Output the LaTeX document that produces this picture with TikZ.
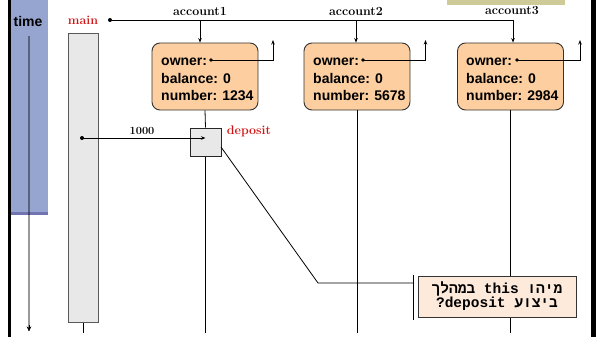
\documentclass[tikz,border=0pt]{standalone}
\usepackage{fontspec}
\usetikzlibrary{arrows.meta}
\TeXXeTstate=1

\newfontfamily\boxsans{Liberation Sans}
\newfontfamily\notemono[Script=Hebrew]{Liberation Mono}

\definecolor{panelblue}{RGB}{150,164,208}
\definecolor{paneledge}{RGB}{112,116,176}
\definecolor{objfill}{RGB}{252,206,160}
\definecolor{notefill}{RGB}{253,234,218}
\definecolor{actfill}{RGB}{232,232,232}
\definecolor{tagolive}{RGB}{207,203,153}
\definecolor{callred}{RGB}{210,20,20}

\tikzset{
  objbox/.style={draw=black!80, fill=objfill, rounded corners=8pt, line width=0.9pt,
    minimum width=106pt, minimum height=67pt, inner sep=0pt},
  objtext/.style={font=\boxsans\bfseries\fontsize{14}{16}\selectfont, inner sep=0pt, anchor=base west},
  acclabel/.style={font=\bfseries\fontsize{12.4}{14}\selectfont, inner sep=0pt},
  redlabel/.style={font=\bfseries\fontsize{12.4}{14}\selectfont, text=callred, inner sep=0pt},
  actbox/.style={draw=black!65, fill=actfill, line width=1pt, inner sep=0pt},
  notebox/.style={draw=black!80, fill=notefill, line width=0.8pt, inner sep=0pt,
    minimum width=158pt, minimum height=41pt, align=center,
    font=\notemono\bfseries\fontsize{14.5}{14}\selectfont},
  tip/.style={-{Stealth[length=4.5pt,width=3.5pt]}},
  wire/.style={line width=0.8pt},
}

\begin{document}
\begin{tikzpicture}[x=1pt,y=-1pt]
\useasboundingbox (0,0) rectangle (596,337);

% frame pieces
\fill[black] (8,0) rectangle (11,337);
\fill[black] (590.5,0) rectangle (596,337);
\fill[panelblue] (11,0) rectangle (48,213);
\fill[paneledge] (11,212) rectangle (48,215);
\fill[tagolive] (447,0) rectangle (565,5);

% time axis
\node[font=\boxsans\bfseries\fontsize{14}{16}\selectfont, inner sep=0pt] (time) at (28,21) {time};
\coordinate (t0) at (29,36);
\coordinate (t1) at (29,331);
\draw[black, opacity=0.4, line width=1.5pt] (t0) -- (t1);
\draw[black, -{Stealth[length=4.5pt,width=4.5pt]}] ([yshift=6pt]t1) -- (t1);

% main activation
\node[redlabel] (main) at (83,20) {main};
\node[actbox, minimum width=30pt, minimum height=288pt] (act) at (83,178) {};
\coordinate (actend) at (83,333);
\draw[wire] (act.south) -- (actend);

% references from main
\coordinate (m0) at (110,20);
\fill (m0) circle (2pt);
\coordinate (j1) at (200,20);
\coordinate (j2) at (356,20);
\coordinate (j3) at (513,20);
\draw[wire] (m0) -- (j3);

% the three account objects
\node[acclabel] (a1) at (200,11) {account1};
\node[acclabel] (a2) at (356,11) {account2};
\node[acclabel] (a3) at (512,11) {account3};

\node[objbox] (b1) at (205,76.5) {};
\node[objbox] (b2) at (357,76.5) {};
\node[objbox] (b3) at (510.5,76.5) {};

\draw[wire, tip] (j1) -- (j1 |- b1.north);
\draw[wire, tip] (j2) -- (j2 |- b2.north);
\draw[wire, tip] (j3) -- (j3 |- b3.north);

% object fields
\node[objtext] (o1) at (161,66) {owner:};
\node[objtext] (l1) at (161,83) {balance: 0};
\node[objtext] (n1) at (161,100) {number: 1234};
\node[objtext] (o2) at (313,66) {owner:};
\node[objtext] (l2) at (313,83) {balance: 0};
\node[objtext] (n2) at (313,100) {number: 5678};
\node[objtext] (o3) at (466,66) {owner:};
\node[objtext] (l3) at (466,83) {balance: 0};
\node[objtext] (n3) at (466,100) {number: 2984};

\coordinate (d1) at (211,60);
\coordinate (d2) at (363,60);
\coordinate (d3) at (517,60);
\coordinate (u1) at (273,40);
\coordinate (u2) at (425.5,40);
\coordinate (u3) at (580,40);
\foreach \k in {1,2,3}{
  \fill (d\k) circle (1.8pt);
  \draw[wire, tip] (d\k) -| (u\k);
}

% the deposit call
\node[actbox, draw=black!85, minimum width=31pt, minimum height=28pt] (dep) at (205.5,142) {};
\node[redlabel] (deplbl) at (249,131) {deposit};
\coordinate (c0) at (82,138);
\fill (c0) circle (2pt);
\draw[wire, tip] (c0) -- (c0 -| dep.center);
\node[acclabel, font=\bfseries\fontsize{11}{13}\selectfont] (amt) at (142,131) {1000};

% lifelines
\coordinate (e1) at (205.5,333);
\coordinate (e2) at (357,333);
\coordinate (e3) at (510.5,333);
\draw[wire] (b1.south) -- (dep.north);
\draw[wire] (dep.south) -- (e1);
\draw[wire] (b2.south) -- (e2);
\draw[wire] (b3.south) -- (e3);

% question callout
\coordinate (k0) at (221,147);
\coordinate (k1) at (318,283);
\coordinate (k2) at (413,283);
\coordinate (bt) at (413,275);
\coordinate (bb) at (413,320);
\draw[wire] (k0) -- (k1) -- (k2);
\draw[wire] (bt) -- (bb);
\node[notebox] (note) at (497,296.5)
  {\beginR מיהו this במהלך\endR\\
   \beginR ביצוע deposit\hbox{?}\endR};
\end{tikzpicture}
\end{document}
